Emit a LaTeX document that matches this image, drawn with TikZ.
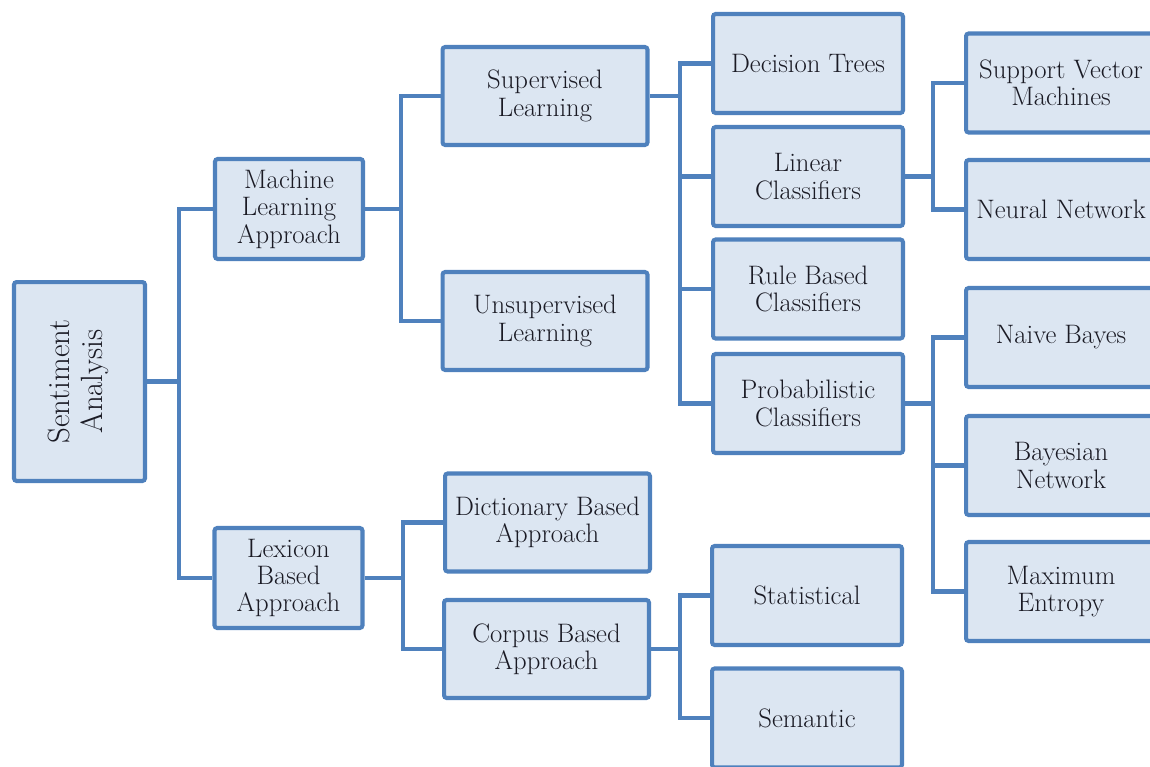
\RequirePackage{fix-cm}
\documentclass[tikz,border=0pt]{standalone}
\usepackage{graphicx}
\definecolor{saborder}{HTML}{4F81BD}
\definecolor{safill}{HTML}{DCE6F2}
\definecolor{satext}{HTML}{1A1A24}
\newcommand{\sasize}{\rmfamily\fontsize{15.2}{15.6}\selectfont}
\newcommand{\sarootsize}{\rmfamily\fontsize{17.5}{18.8}\selectfont}

\begin{document}
\begin{tikzpicture}[
    x=0.02cm, y=-0.02cm,
    sabox/.style={draw=saborder, fill=safill, line width=2.3pt, rounded corners=1.5pt, align=center, text=satext, inner sep=2pt, minimum width=3.8cm, minimum height=1.98cm, font=\sasize},
    saroot/.style={sabox, minimum width=2.62cm, minimum height=3.98cm, font=\sarootsize},
    saapproach/.style={sabox, minimum width=2.96cm, minimum height=2cm},
    salearning/.style={sabox, minimum width=4.1cm, minimum height=1.96cm},
    saleaf/.style={sabox, minimum width=3.8cm, minimum height=1.98cm},
    saline/.style={draw=saborder, line width=2.3pt}
]
\useasboundingbox (0,0) rectangle (1150,767);
\clip (0,0) rectangle (1150,767);

\node[saroot] (sa) at (79.5,381.5) {\rotatebox{90}{\begin{tabular}{@{}c@{}}Sentiment\\Analysis\end{tabular}}};
\node[saapproach] (ml) at (289,209) {Machine\\Learning\\Approach};
\node[saapproach] (lex) at (288.5,578) {Lexicon\\Based\\Approach};
\node[salearning] (sup) at (545,96) {Supervised\\Learning};
\node[salearning] (unsup) at (545,321) {Unsupervised\\Learning};
\node[salearning] (dict) at (547.5,522.5) {Dictionary Based\\Approach};
\node[salearning] (corp) at (546.5,649) {Corpus Based\\Approach};
\node[saleaf] (dt) at (808,63.5) {Decision Trees};
\node[saleaf] (lin) at (808,176.5) {Linear\\Classifiers};
\node[saleaf] (rule) at (808,289) {Rule Based\\Classifiers};
\node[saleaf] (prob) at (808,403.5) {Probabilistic\\Classifiers};
\node[saleaf] (stat) at (807,595.5) {Statistical};
\node[saleaf] (sem) at (807,718) {Semantic};
\node[saleaf] (svm) at (1061,83) {Support Vector\\Machines};
\node[saleaf] (nn) at (1061,209.5) {Neural Network};
\node[saleaf] (nb) at (1061,337.5) {Naive Bayes};
\node[saleaf] (bn) at (1061,465.5) {Bayesian\\Network};
\node[saleaf] (me) at (1061,591.5) {Maximum\\Entropy};

\coordinate (busA) at (179,0);
\coordinate (busB) at (401,0);
\coordinate (busC) at (403,0);
\coordinate (busD) at (680,0);
\coordinate (busE) at (933,0);

\draw[saline] (sa.east) -- (sa.east -| busA) |- (ml.west);
\draw[saline] (sa.east -| busA) |- (lex.west);
\draw[saline] (ml.east) -- (ml.east -| busB) |- (sup.west);
\draw[saline] (ml.east -| busB) |- (unsup.west);
\draw[saline] (lex.east) -- (lex.east -| busC) |- (dict.west);
\draw[saline] (lex.east -| busC) |- (corp.west);
\draw[saline] (sup.east) -- (sup.east -| busD) |- (dt.west);
\draw[saline] (sup.east -| busD) |- (lin.west);
\draw[saline] (sup.east -| busD) |- (rule.west);
\draw[saline] (sup.east -| busD) |- (prob.west);
\draw[saline] (corp.east) -- (corp.east -| busD) |- (stat.west);
\draw[saline] (corp.east -| busD) |- (sem.west);
\draw[saline] (lin.east) -- (lin.east -| busE) |- (svm.west);
\draw[saline] (lin.east -| busE) |- (nn.west);
\draw[saline] (prob.east) -- (prob.east -| busE) |- (nb.west);
\draw[saline] (prob.east -| busE) |- (bn.west);
\draw[saline] (prob.east -| busE) |- (me.west);
\end{tikzpicture}
\end{document}
